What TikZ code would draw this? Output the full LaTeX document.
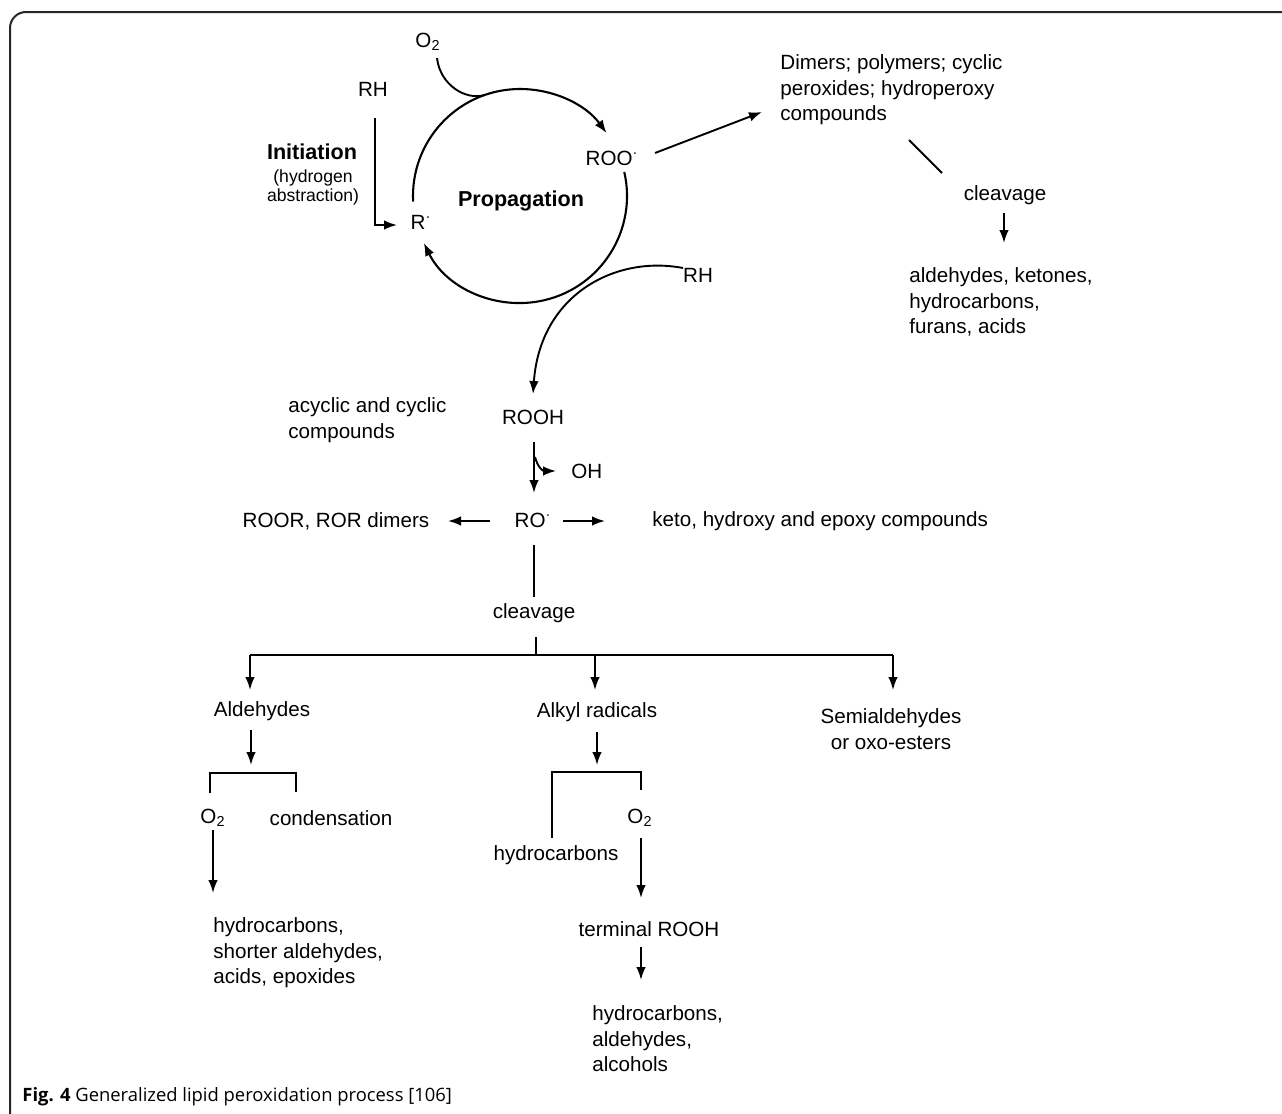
\documentclass[tikz,border=0pt]{standalone}
\usepackage{fontspec}
\setmainfont{Liberation Sans}
\newfontfamily\capfont{Open Sans}
\usetikzlibrary{arrows.meta,calc}
\begin{document}
\begin{tikzpicture}[x=0.5pt,y=-0.5pt,
  txt/.style={inner sep=0pt, font=\fontsize{10.3}{12.75}\selectfont, align=left},
  btxt/.style={inner sep=0pt, font=\fontsize{10.8}{13}\selectfont\bfseries},
  stxt/.style={inner sep=0pt, font=\fontsize{8.8}{9.5}\selectfont, align=center},
  ln/.style={line width=0.95pt},
  arr/.style={ln, -{Latex[length=6.5pt,width=4.8pt]}},
]
\useasboundingbox (0,0) rectangle (1282,1114);
% frame
\draw[line width=1pt, black!85, rounded corners=8pt] (10,1114) -- (10,12) -- (1282,12);

% ---- nodes ----
\node[txt] (O2a) at (428,42) {O\textsubscript{2}};
\node[txt] (RH1) at (373,89) {RH};
\node[btxt] (Init) at (312,152) {Initiation};
\node[stxt] (Hyd) at (313,187) {(hydrogen\\abstraction)};
\node[txt] (R) at (421,222) {R\textsuperscript{·}};
\node[btxt] (Prop) at (521,201) {Propagation};
\node[txt] (ROO) at (612,158) {ROO\textsuperscript{·}};
\node[txt] (RH2) at (698,275) {RH};
\node[txt, anchor=west] (Dim) at (780,90) {Dimers; polymers; cyclic\\peroxides; hydroperoxy\\compounds};
\node[txt] (cl1) at (1005,195) {cleavage};
\node[txt, anchor=west] (ald1) at (909,302) {aldehydes, ketones,\\hydrocarbons,\\furans, acids};
\node[txt, anchor=west] (acy) at (288,420) {acyclic and cyclic\\compounds};
\node[txt] (ROOH) at (533,417) {ROOH};
\node[txt, anchor=west] (OH) at (571,471) {OH};
\node[txt] (RO) at (533,520) {RO\textsuperscript{·}};
\node[txt] (ROOR) at (336,521) {ROOR, ROR dimers};
\node[txt, anchor=west] (keto) at (652,521) {keto, hydroxy and epoxy compounds};
\node[txt] (cl2) at (534,613) {cleavage};
\node[txt] (Ald) at (262,711) {Aldehydes};
\node[txt] (Alk) at (597,712) {Alkyl radicals};
\node[txt, align=center] (Semi) at (891,729) {Semialdehydes\\or oxo-esters};
\node[txt] (O2b) at (213,818) {O\textsubscript{2}};
\node[txt] (cond) at (331,818) {condensation};
\node[txt, anchor=west] (hc1) at (213,953) {hydrocarbons,\\shorter aldehydes,\\acids, epoxides};
\node[txt] (hc2) at (556,855) {hydrocarbons};
\node[txt] (O2c) at (640,818) {O\textsubscript{2}};
\node[txt] (term) at (649,929) {terminal ROOH};
\node[txt, anchor=west] (hc3) at (592,1039) {hydrocarbons,\\aldehydes,\\alcohols};
\node[inner sep=0pt, anchor=base west, font=\capfont\fontsize{9.2}{11}\selectfont] (cap) at (22,1101)
  {\textbf{Fig. 4} Generalized lipid peroxidation process [106]};

% ---- propagation cycle ----
\coordinate (C) at (520,196);
\draw[arr, line width=1.05pt] ([shift={(183:53.5pt)}]C) arc[start angle=183, end angle=36, radius=53.5pt];
\draw[arr, line width=1.05pt] ([shift={(13:53.5pt)}]C) arc[start angle=13, end angle=-154, radius=53.5pt];
\draw[ln] ([shift={(9,16)}]O2a.center) .. controls (440,85) and (466,101) .. ([shift={(109:53.5pt)}]C);
\draw[arr] ([shift={(-15,-7)}]RH2.center) .. controls (615,255) and (540,295) .. ([shift={(0,-23)}]ROOH.center);
\draw[arr] ([shift={(2,29)}]RH1.center) |- ([shift={(-24,3)}]R.center);

% ---- top right ----
\draw[arr] ([shift={(43,-5)}]ROO.center) -- ([shift={(-18,22)}]Dim.west);
\draw[ln] ([shift={(129,50)}]Dim.west) -- ([shift={(-63,-22)}]cl1.center);
\draw[arr] ([shift={(-1,18)}]cl1.center) -- ([shift={(95,-59)}]ald1.west);

% ---- ROOH / RO ----
\draw[arr] ([shift={(1,25)}]ROOH.center) -- ([shift={(1,-27)}]RO.center);
\draw[arr] ([shift={(2,40)}]ROOH.center) .. controls (538,468) and (543,471) .. ([shift={(-15,0)}]OH.west);
\draw[arr] ([shift={(-43,1)}]RO.center) -- ([shift={(112,0)}]ROOR.center);
\draw[arr] ([shift={(30,1)}]RO.center) -- ([shift={(-47,0)}]keto.west);
\draw[ln] ([shift={(1,25)}]RO.center) -- ([shift={(0,-16)}]cl2.center);

% ---- cleavage split ----
\coordinate (split) at (536,655);
\coordinate (hL) at (250,655);
\coordinate (hM) at (595,655);
\coordinate (hR) at (893,655);
\draw[ln] ([shift={(2,24)}]cl2.center) -- (split);
\draw[ln] (hL) -- (hR);
\draw[arr] (hL) -- ([shift={(-12,-21)}]Ald.center);
\draw[arr] (hM) -- ([shift={(-2,-22)}]Alk.center);
\draw[arr] (hR) -- ([shift={(2,-39)}]Semi.center);

% ---- aldehydes branch ----
\draw[arr] ([shift={(-11,19)}]Ald.center) -- ([shift={(-11,54)}]Ald.center);
\draw[ln] ([shift={(-3,-25)}]O2b.center) -- (210,773) -- (296,773) -- ([shift={(-35,-26)}]cond.center);
\draw[arr] ([shift={(0,12)}]O2b.center) -- ([shift={(0,-60)}]hc1.west);

% ---- alkyl branch ----
\draw[arr] ([shift={(0,20)}]Alk.center) -- ([shift={(0,53)}]Alk.center);
\draw[ln] ([shift={(-4,-17)}]hc2.center) -- (552,772) -- (641,772) -- ([shift={(1,-28)}]O2c.center);
\draw[arr] ([shift={(1,20)}]O2c.center) -- ([shift={(-8,-31)}]term.center);
\draw[arr] ([shift={(-8,18)}]term.center) -- ([shift={(49,-59)}]hc3.west);
\end{tikzpicture}
\end{document}
